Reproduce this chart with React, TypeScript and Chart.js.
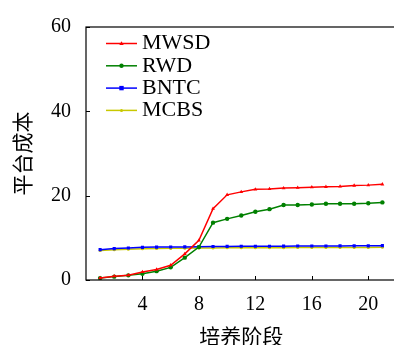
import React, { useEffect, useRef } from "react";
import { Chart, registerables } from "chart.js";

Chart.register(...registerables);

const stages = [1, 2, 3, 4, 5, 6, 7, 8, 9, 10, 11, 12, 13, 14, 15, 16, 17, 18, 19, 20, 21];
const mwsd = [0.5, 0.9, 1.15, 1.9, 2.5, 3.5, 6.2, 9.4, 16.9, 20.2, 20.9, 21.5, 21.6, 21.8, 21.9, 22.0, 22.1, 22.2, 22.4, 22.5, 22.7];
const rwd = [0.45, 0.8, 1.1, 1.5, 2.1, 3.0, 5.3, 7.8, 13.6, 14.5, 15.3, 16.2, 16.8, 17.8, 17.8, 17.9, 18.1, 18.1, 18.1, 18.2, 18.4];
const bntc = [7.2, 7.45, 7.6, 7.75, 7.8, 7.82, 7.85, 7.88, 7.95, 7.97, 8.0, 8.0, 8.02, 8.03, 8.05, 8.05, 8.07, 8.08, 8.1, 8.1, 8.15];
const mcbs = [7.0, 7.15, 7.3, 7.4, 7.45, 7.5, 7.55, 7.6, 7.6, 7.62, 7.64, 7.65, 7.66, 7.67, 7.68, 7.69, 7.7, 7.71, 7.72, 7.73, 7.75];
const seriesNames = ["MWSD", "RWD", "BNTC", "MCBS"];
const seriesColors = ["#ff0000", "#008000", "#0000ff", "#c8c800"];
const seriesMarkers = ["triangle", "circle", "rect", "circle"];
const xTicks = [4, 8, 12, 16, 20];
const yTicks = [0, 20, 40, 60];
const xTitle = "培养阶段";
const yTitle = "平台成本";

const SERIF = "'Liberation Serif', 'DejaVu Serif', serif";
const CJK = "'Noto Sans CJK SC', sans-serif";

const framePlugin = {
  id: "frame",
  afterDatasetsDraw(chart: any) {
    const { ctx, chartArea } = chart;
    const { left, right, top, bottom } = chartArea;
    ctx.save();
    ctx.strokeStyle = "#000";
    ctx.lineWidth = 1.2;
    ctx.strokeRect(left, top, right - left, bottom - top);
    ctx.lineWidth = 1;
    const xs = chart.scales.x;
    const ys = chart.scales.y;
    ctx.beginPath();
    xTicks.forEach((v) => {
      const px = Math.round(xs.getPixelForValue(v)) + 0.5;
      ctx.moveTo(px, bottom);
      ctx.lineTo(px, bottom - 4);
    });
    yTicks.forEach((v) => {
      const py = Math.round(ys.getPixelForValue(v)) + 0.5;
      ctx.moveTo(left, py);
      ctx.lineTo(left + 4, py);
    });
    ctx.stroke();

    // legend
    const x0 = 106;
    const x1 = 137;
    const y0 = 43.5;
    const dy = 22.3;
    chart.data.datasets.forEach((ds: any, i: number) => {
      const y = y0 + i * dy;
      ctx.strokeStyle = ds.borderColor;
      ctx.lineWidth = 1.5;
      ctx.beginPath();
      ctx.moveTo(x0, y);
      ctx.lineTo(x1, y);
      ctx.stroke();
      ctx.fillStyle = ds.borderColor;
      const mx = (x0 + x1) / 2;
      const r = ds.pointRadius;
      if (ds.pointStyle === "triangle") {
        ctx.beginPath();
        ctx.moveTo(mx, y - r);
        ctx.lineTo(mx + r, y + r * 0.7);
        ctx.lineTo(mx - r, y + r * 0.7);
        ctx.closePath();
        ctx.fill();
      } else if (ds.pointStyle === "rect") {
        ctx.fillRect(mx - r, y - r, 2 * r, 2 * r);
      } else {
        ctx.beginPath();
        ctx.arc(mx, y, r, 0, Math.PI * 2);
        ctx.fill();
      }
      ctx.fillStyle = "#000";
      ctx.font = `22px ${SERIF}`;
      ctx.textBaseline = "middle";
      ctx.textAlign = "left";
      ctx.fillText(ds.label, 142, y);
    });
    ctx.restore();
  },
};

export default function App() {
  const ref = useRef<HTMLCanvasElement | null>(null);
  useEffect(() => {
    if (!ref.current) return;
    const allSeries = [mwsd, rwd, bntc, mcbs];
    const chart = new Chart(ref.current, {
      type: "line",
      data: {
        datasets: allSeries.map((vals, i) => ({
          label: seriesNames[i],
          data: stages.map((s, j) => ({ x: s, y: vals[j] })),
          borderColor: seriesColors[i],
          backgroundColor: seriesColors[i],
          borderWidth: 1.5,
          pointRadius: i === 3 ? 1.5 : 2.2,
          pointStyle: seriesMarkers[i] as any,
          pointBorderWidth: 0,
          tension: 0,
          fill: false,
        })),
      },
      options: {
        animation: false,
        responsive: false,
        devicePixelRatio: 1,
        layout: { padding: { left: 0, top: 20, right: 23.5, bottom: 0 } },
        plugins: { legend: { display: false }, tooltip: { enabled: false } },
        scales: {
          x: {
            type: "linear",
            min: 0,
            max: 22,
            afterBuildTicks: (s: any) => {
              s.ticks = xTicks.map((v) => ({ value: v }));
            },
            afterFit: (s: any) => {
              s.height = 65;
            },
            grid: { display: false, drawTicks: false },
            border: { display: false },
            ticks: {
              color: "#000",
              padding: 12.6,
              maxRotation: 0,
              font: { family: SERIF, size: 20 },
            },
            title: {
              display: true,
              text: xTitle,
              color: "#000",
              font: { family: CJK, size: 21, lineHeight: 1 },
              padding: { top: 0, bottom: -2 },
            },
          },
          y: {
            type: "linear",
            min: 0,
            max: 60,
            afterBuildTicks: (s: any) => {
              s.ticks = yTicks.map((v) => ({ value: v }));
            },
            afterFit: (s: any) => {
              s.width = 86;
            },
            grid: { display: false, drawTicks: false },
            border: { display: false },
            ticks: {
              color: "#000",
              padding: 15,
              font: { family: SERIF, size: 20 },
            },
            title: {
              display: true,
              text: yTitle,
              color: "#000",
              font: { family: CJK, size: 21, lineHeight: 1 },
              padding: { top: 11.5, bottom: 0 },
            },
          },
        },
      },
      plugins: [framePlugin],
    } as any);
    return () => chart.destroy();
  }, []);
  return (
    <div
      style={{
        position: "fixed",
        left: 0,
        top: 0,
        width: 394,
        height: 345,
        overflow: "hidden",
        background: "#fff",
      }}
    >
      <canvas ref={ref} width={420} height={345} style={{ width: 420, height: 345, display: "block" }} />
    </div>
  );
}
